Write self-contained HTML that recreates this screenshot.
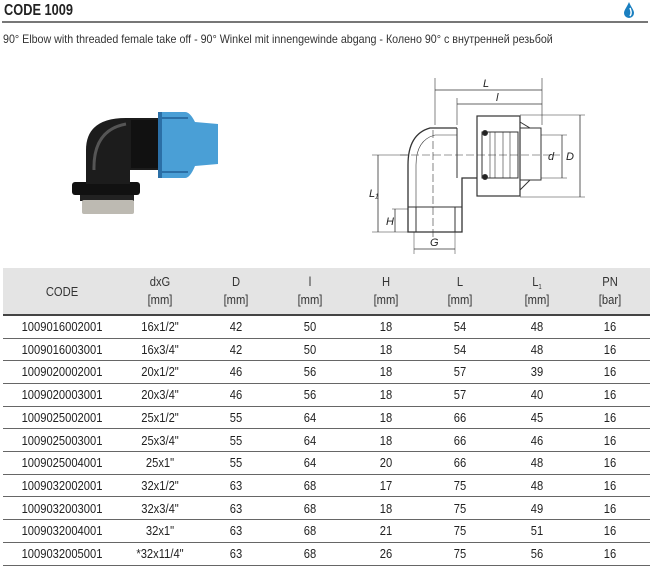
<!DOCTYPE html>
<html><head><meta charset="utf-8"><style>
body{margin:0;width:652px;height:567px;background:#fff;position:relative;overflow:hidden;font-family:"Liberation Sans",sans-serif;color:#222}
.t{position:absolute;left:4px;top:2px;font-weight:bold;font-size:16px;transform:scaleX(0.8);transform-origin:0 0}
.hr{position:absolute;left:2px;width:646px;top:21px;height:2px;background:#777}
.sub{position:absolute;left:3px;top:32px;font-size:12px;color:#333;white-space:nowrap;transform:scaleX(0.89);transform-origin:0 0}
.hd{position:absolute;left:3px;top:268px;width:647px;height:46px;background:#e4e4e4;border-bottom:2px solid #444}
.c{position:absolute;text-align:center;font-size:13px;width:100px;margin-left:-50px;transform:scaleX(0.86);white-space:nowrap}
.h2{line-height:18px;color:#333}
.ln{position:absolute;left:3px;width:647px;height:1px;background:#666}
</style></head><body>
<div class="t">CODE 1009</div>
<svg style="position:absolute;left:621px;top:1px" width="16" height="18"><path d="M8 1 C6 6 3 9 3 12 A5 5 0 0 0 13 12 C13 9 10 6 8 1Z" fill="#1a7fc0"/><path d="M9 7 C10 10 11 12 9 15" stroke="#fff" stroke-width="1.5" fill="none"/></svg>
<div class="hr"></div>
<div class="sub">90° Elbow with threaded female take off - 90° Winkel mit innengewinde abgang - Колено 90° с внутренней резьбой</div>

<svg style="position:absolute;left:0;top:60px" width="652" height="200">
<g transform="translate(0,-60)">
<rect x="72" y="182" width="68" height="13" fill="#111" rx="3"/>
<rect x="80" y="195" width="54" height="6" fill="#222"/>
<rect x="82" y="200" width="52" height="14" fill="#bdbab2" rx="2"/>
<path d="M86 184 L86 150 Q86 118 126 118 L160 118 L160 170 L130 170 L130 184 Z" fill="#1c1c1c"/>
<path d="M94 170 Q93 130 126 124" stroke="#555" stroke-width="3" fill="none"/>
<rect x="131" y="120" width="30" height="48" fill="#111"/>
<path d="M160 112 L185 112 Q190 112 195 122 L218 124 L218 164 L195 166 Q190 178 185 178 L160 178 Z" fill="#4a9fd6"/>
<path d="M162 118 L188 118 M162 172 L188 172" stroke="#2b6fa6" stroke-width="2"/>
<rect x="158" y="112" width="4" height="66" fill="#2b6fa6"/>
</g>
<g transform="translate(0,-60)" stroke="#333" fill="none" stroke-width="1">
<path d="M457 128 L430 128 Q408 134 408 165 L408 232 L462 232 L462 178 L477 178" stroke-width="1.3"/>
<path d="M457 135 L435 135 Q416 140 416 165 L416 207" stroke-width="0.6"/>
<path d="M457 128 L457 178 M462 178 L462 207 L408 207 M416 207 L416 232 M455 207 L455 232" />
<rect x="477" y="116" width="43" height="80" stroke-width="1.2"/>
<path d="M520 128 L541 128 L541 180 L520 180 M520 122 L530 128 M520 190 L530 180"/>
<rect x="482" y="132" width="36" height="46" fill="#fff"/>
<path d="M490 132 L490 178 M495 132 L495 178 M503 132 L503 178 M510 132 L510 178" stroke-width="0.6"/>
<circle cx="485" cy="133" r="2.5" fill="#222"/><circle cx="485" cy="177" r="2.5" fill="#222"/>
<path d="M400 155 L560 155 M433 130 L433 240" stroke-dasharray="8 3" stroke-width="0.6"/>
<path d="M435 78 L435 125 M457 98 L457 125 M542 78 L542 125" stroke-width="0.6"/>
<path d="M435 90 L542 90 M457 104 L542 104 M580 115 L580 197 M562 135 L562 178 M378 155 L378 232 M395 209 L395 232 M414 249 L455 249" stroke-width="0.8"/>
<path d="M520 115 L585 115 M520 197 L585 197 M541 135 L567 135 M541 178 L567 178 M372 155 L408 155 M372 232 L408 232 M392 209 L408 209 M414 232 L414 254 M455 232 L455 254" stroke-width="0.5"/>
</g>
<g transform="translate(0,-60)" font-family="Liberation Sans" font-style="italic" font-size="11" fill="#222">
<text x="483" y="87">L</text><text x="496" y="101">l</text><text x="548" y="160">d</text><text x="566" y="160">D</text>
<text x="369" y="197">L₁</text><text x="386" y="225">H</text><text x="430" y="246">G</text>
</g>
</svg>

<div class="hd"></div>
<div class="c h2" style="left:62px;top:283px">CODE</div>
<div class="c h2" style="left:160px;top:273px">dxG<br>[mm]</div>
<div class="c h2" style="left:236px;top:273px">D<br>[mm]</div>
<div class="c h2" style="left:310px;top:273px">l<br>[mm]</div>
<div class="c h2" style="left:386px;top:273px">H<br>[mm]</div>
<div class="c h2" style="left:460px;top:273px">L<br>[mm]</div>
<div class="c h2" style="left:537px;top:273px">L<span style="font-size:7px;vertical-align:-3px;line-height:0">1</span><br>[mm]</div>
<div class="c h2" style="left:610px;top:273px">PN<br>[bar]</div>

<div id="rows"></div>
<script>
var d=[["1009016002001","16x1/2\"","42","50","18","54","48"],["1009016003001","16x3/4\"","42","50","18","54","48"],["1009020002001","20x1/2\"","46","56","18","57","39"],["1009020003001","20x3/4\"","46","56","18","57","40"],["1009025002001","25x1/2\"","55","64","18","66","45"],["1009025003001","25x3/4\"","55","64","18","66","46"],["1009025004001","25x1\"","55","64","20","66","48"],["1009032002001","32x1/2\"","63","68","17","75","48"],["1009032003001","32x3/4\"","63","68","18","75","49"],["1009032004001","32x1\"","63","68","21","75","51"],["1009032005001","*32x11/4\"","63","68","26","75","56"]];
var xs=[62,160,236,310,386,460,537,610],h="";
d.forEach(function(r,i){r=r.concat(["16"]);var y=316+i*22.7;
r.forEach(function(v,j){h+='<div class="c" style="left:'+xs[j]+'px;top:'+(y+3)+'px">'+v.replace(/"/g,'&quot;')+'</div>';});
h+='<div class="ln" style="top:'+Math.round(y+21.5)+'px"></div>';});
document.getElementById("rows").innerHTML=h;
</script>
</body></html>
